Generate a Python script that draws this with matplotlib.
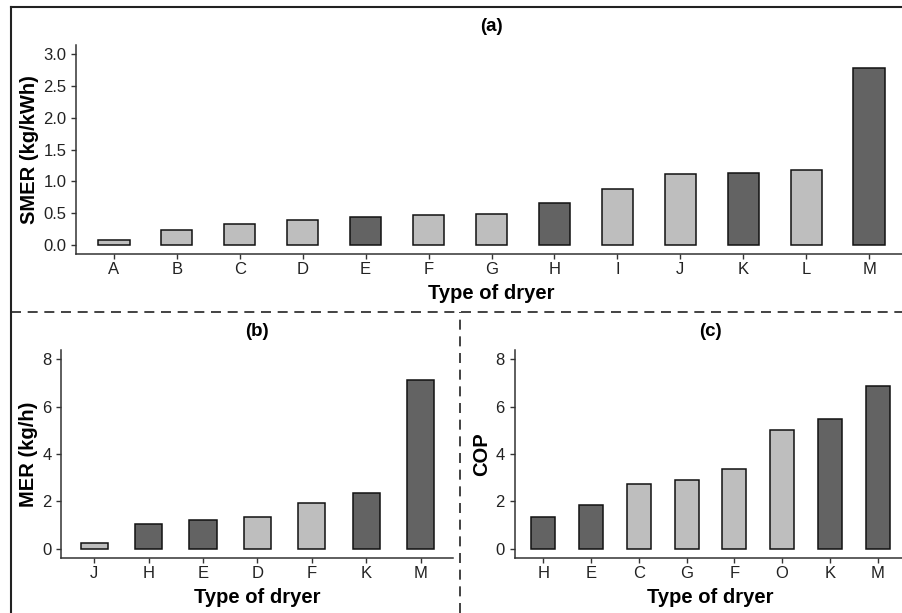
import matplotlib
matplotlib.use("Agg")
import matplotlib.pyplot as plt
from matplotlib.lines import Line2D

plt.rcParams["font.family"] = ["Liberation Sans", "DejaVu Sans"]

LIGHT = "#bebebe"
DARK = "#636363"

# panel (a) - specific moisture extraction rate
smer_dryers = ["A", "B", "C", "D", "E", "F", "G", "H", "I", "J", "K", "L", "M"]
smer_values = [0.07, 0.23, 0.33, 0.39, 0.43, 0.47, 0.48, 0.65, 0.88, 1.12, 1.13, 1.17, 2.78]
smer_dark = [False, False, False, False, True, False, False, True, False, False, True, False, True]

# panel (b) - moisture extraction rate
mer_dryers = ["J", "H", "E", "D", "F", "K", "M"]
mer_values = [0.24, 1.02, 1.22, 1.33, 1.94, 2.37, 7.12]
mer_dark = [False, True, True, False, False, True, True]

# panel (c) - coefficient of performance
cop_dryers = ["H", "E", "C", "G", "F", "O", "K", "M"]
cop_values = [1.33, 1.84, 2.72, 2.90, 3.38, 5.01, 5.49, 6.88]
cop_dark = [True, True, False, False, False, False, True, True]


def draw_panel(ax, labels, values, dark, ylim, yticks, ytick_fmt, ylabel, title):
    x = range(len(labels))
    colors = [DARK if d else LIGHT for d in dark]
    ax.bar(x, values, width=0.5, color=colors, edgecolor="#111111", linewidth=1.1, zorder=2)
    ax.set_xlim(-0.6, len(labels) - 0.4)
    ax.set_ylim(*ylim)
    ax.set_xticks(list(x))
    ax.set_xticklabels(labels)
    ax.set_yticks(yticks)
    ax.set_yticklabels([ytick_fmt.format(v) for v in yticks])
    for side in ["top", "right"]:
        ax.spines[side].set_visible(False)
    for side in ["left", "bottom"]:
        ax.spines[side].set_color("#333333")
        ax.spines[side].set_linewidth(1.1)
    ax.tick_params(axis="both", length=3.5, width=1.0, color="#333333",
                   labelsize=12, labelcolor="#222222")
    ax.tick_params(axis="y", pad=3.5)
    ax.tick_params(axis="x", pad=2)
    ax.set_ylabel(ylabel, fontsize=14.5, fontweight="bold", labelpad=3)
    ax.set_xlabel("Type of dryer", fontsize=14.5, fontweight="bold", labelpad=5)
    ax.set_title(title, fontsize=13.5, fontweight="bold", pad=10)


fig = plt.figure(figsize=(9.03, 6.13), dpi=100)

ax_a = fig.add_axes([0.0842, 0.5856, 0.9202, 0.3410])
draw_panel(ax_a, smer_dryers, smer_values, smer_dark, (-0.15, 3.15),
           [0, 0.5, 1.0, 1.5, 2.0, 2.5, 3.0], "{:.1f}", "SMER (kg/kWh)", "(a)")

ax_b = fig.add_axes([0.0681, 0.0897, 0.4339, 0.3393])
draw_panel(ax_b, mer_dryers, mer_values, mer_dark, (-0.4, 8.4),
           [0, 2, 4, 6, 8], "{:d}", "MER (kg/h)", "(b)")

ax_c = fig.add_axes([0.5698, 0.0897, 0.4340, 0.3393])
draw_panel(ax_c, cop_dryers, cop_values, cop_dark, (-0.4, 8.4),
           [0, 2, 4, 6, 8], "{:d}", "COP", "(c)")

# frame around the panels
W, H = 903.0, 613.0
fig.add_artist(Line2D([11 / W, 1.0], [1 - 7 / H, 1 - 7 / H], color="#222222", linewidth=1.5))
fig.add_artist(Line2D([11 / W, 11 / W], [0.0, 1 - 7 / H], color="#222222", linewidth=1.5))
fig.add_artist(Line2D([11 / W, 1.0], [1 - 311.5 / H, 1 - 311.5 / H], color="#222222",
                      linewidth=1.2, linestyle=(0, (6, 4))))
fig.add_artist(Line2D([460 / W, 460 / W], [0.0, 1 - 311.5 / H], color="#222222",
                      linewidth=1.2, linestyle=(0, (6, 4))))

fig.savefig("out.png", dpi=100)
